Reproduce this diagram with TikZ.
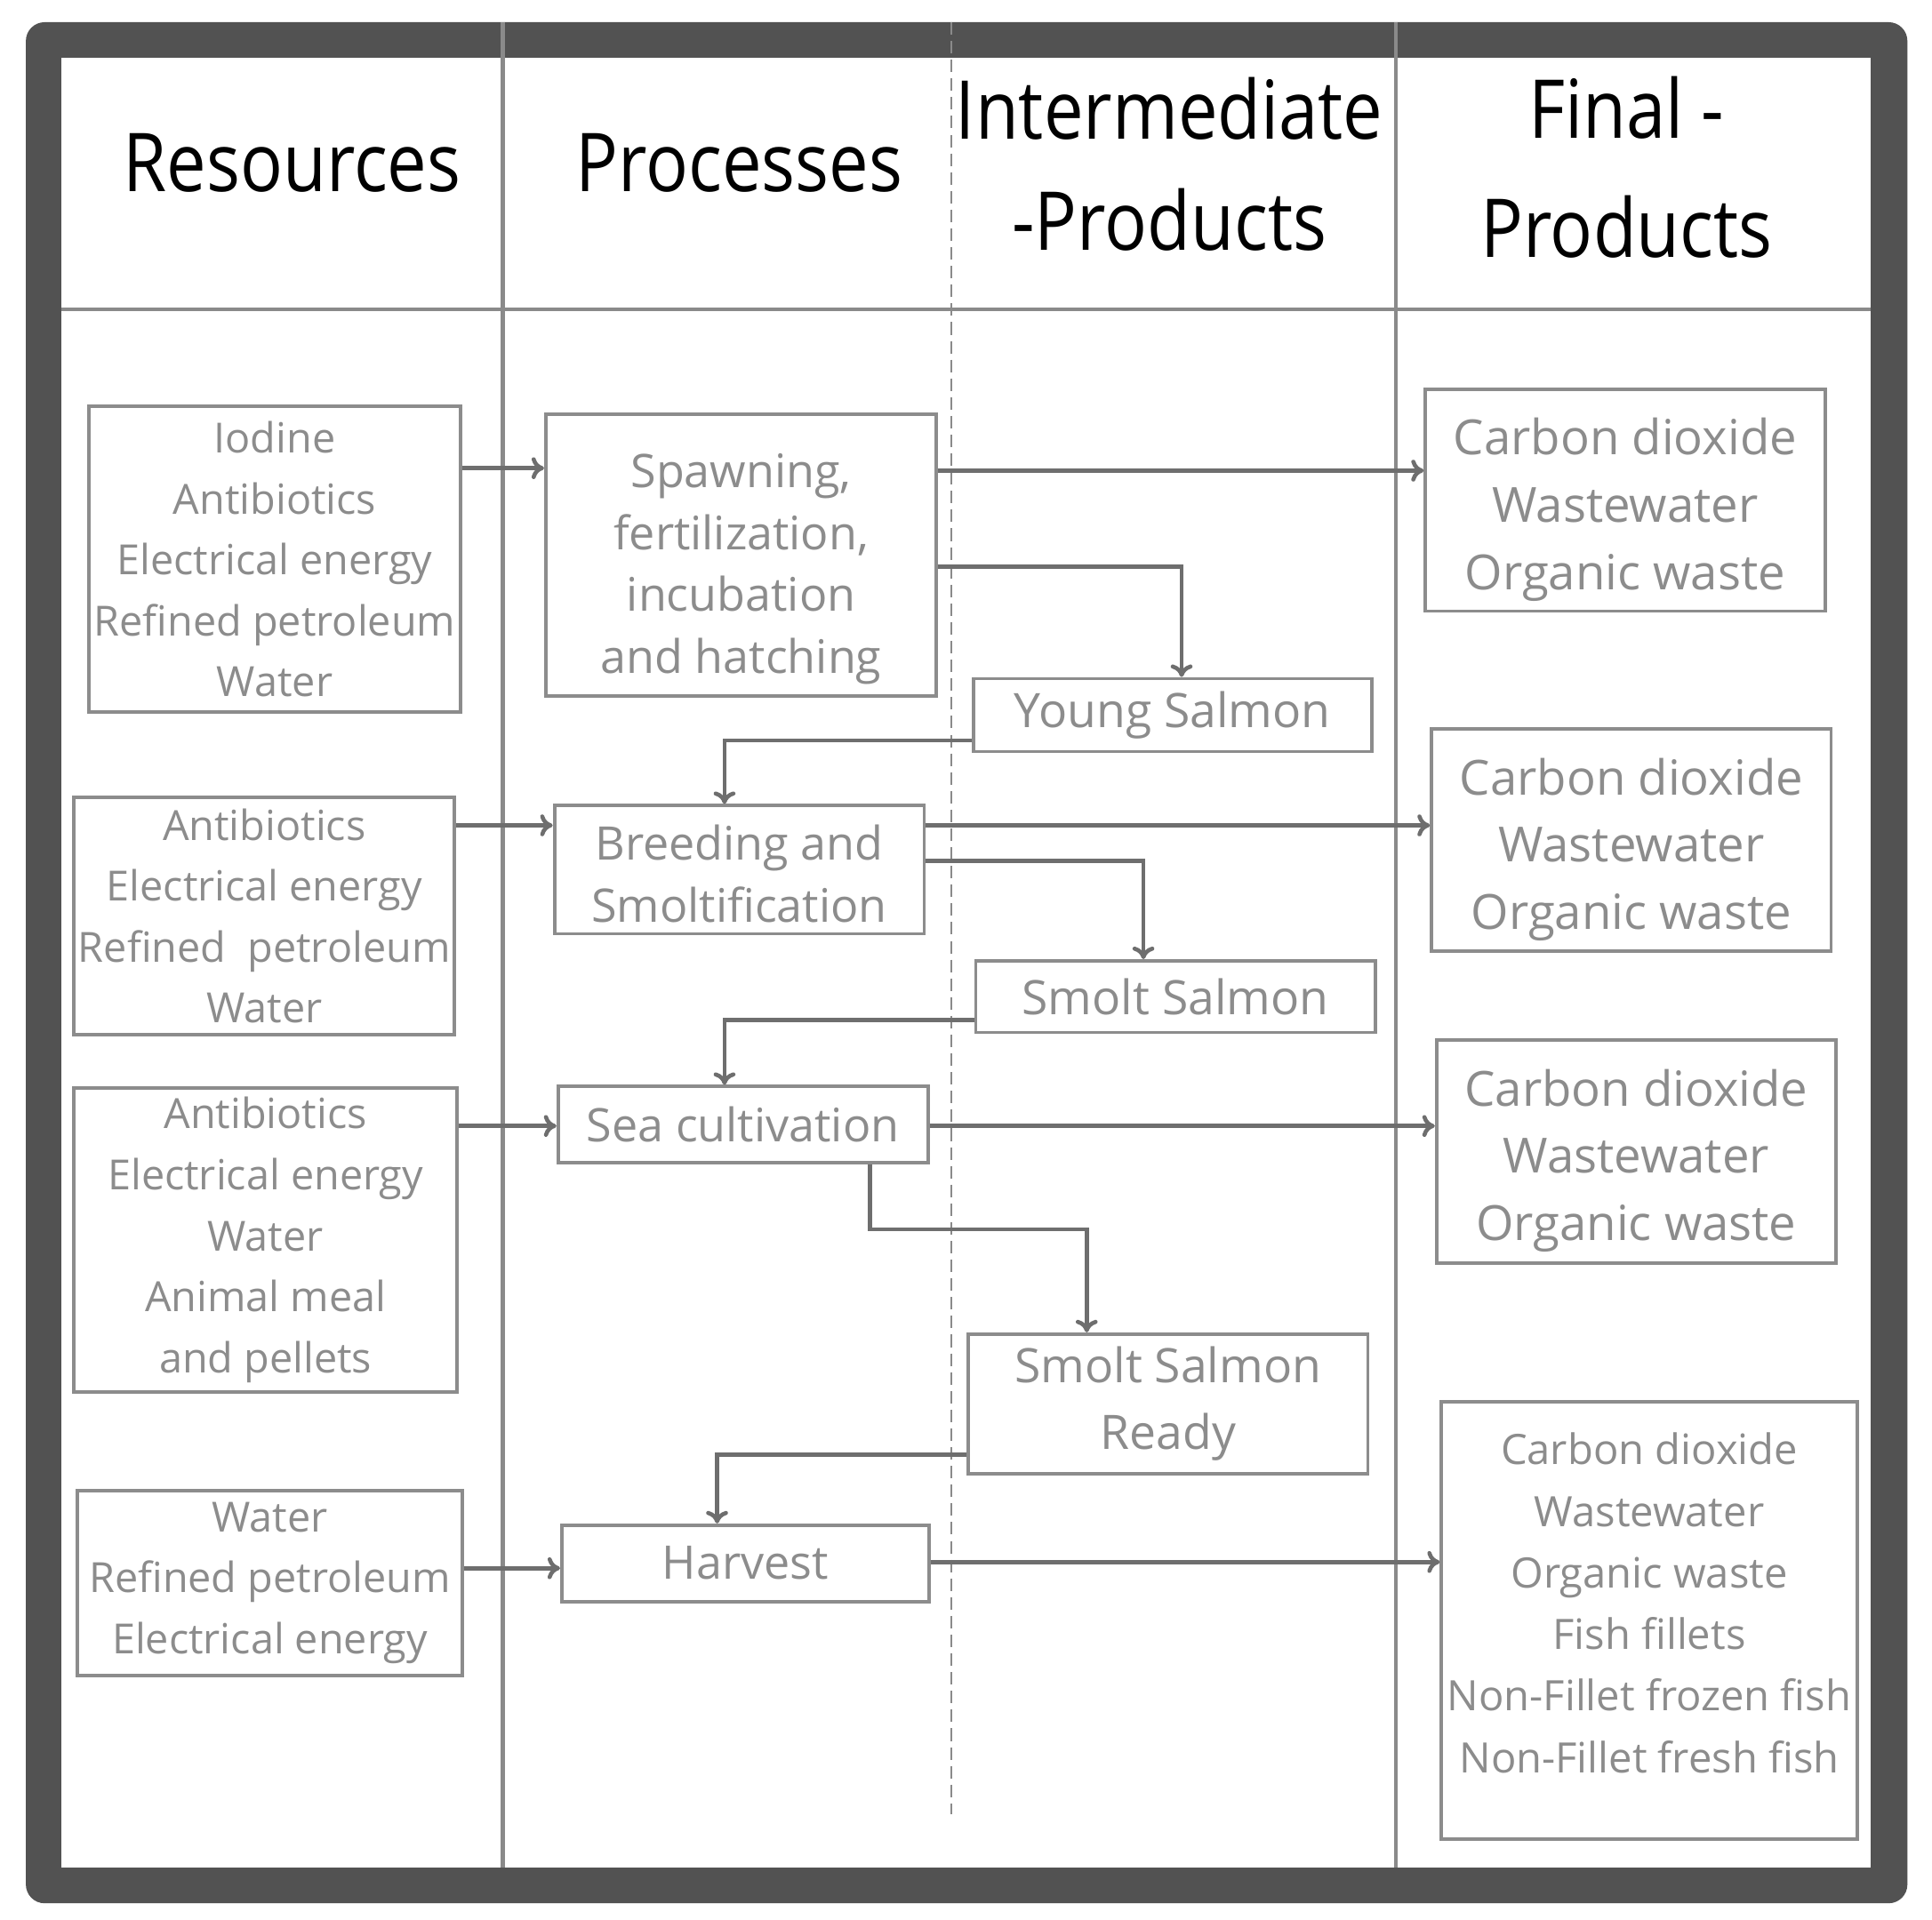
\documentclass[tikz,border=0pt]{standalone}
\usepackage{fontspec}
\setmainfont{Open Sans}
\newfontfamily\headfont[FakeStretch=0.87]{Open Sans}
\usetikzlibrary{arrows.meta}
\definecolor{framegray}{HTML}{525252}
\definecolor{linegray}{HTML}{8A8A8A}
\definecolor{boxgray}{HTML}{8C8C8C}
\definecolor{arrowgray}{HTML}{6E6E6E}

\begin{document}
\begin{tikzpicture}[x=0.013858cm,y=-0.013858cm,>={To[length=4pt,width=7pt]},inner sep=0pt,
  colline/.style={draw=linegray,line width=1.2pt},
  head/.style={font=\headfont\fontsize{26}{35.5}\selectfont,align=center},
  box/.style={draw=boxgray,line width=1.1pt,text=boxgray,align=center},
  resbox/.style={box,font=\fontsize{13.3}{19.5}\selectfont},
  procbox/.style={box,font=\fontsize{14.8}{19.8}\selectfont},
  interbox/.style={box,font=\fontsize{15.2}{21.3}\selectfont},
  finbox/.style={box,font=\fontsize{15.5}{21.5}\selectfont,minimum width=127.8pt,minimum height=71pt},
  flow/.style={->,draw=arrowgray,line width=1.3pt}]
  \path[fill=white,use as bounding box] (0,0) rectangle (1568,1558);
  \fill[framegray,rounded corners=6pt] (21,18) rectangle (1548,1545);
  \fill[white] (50,47) rectangle (1518,1516);
  \foreach \x in {408,1133}
    \draw[colline] (\x,18) -- (\x,1516);
  \draw[colline,line width=0.6pt,dash pattern=on 4pt off 2pt] (772,18) -- (772,1473);
  \draw[colline] (50,251) -- (1518,251);

  \node[head] (hres) at (237,132) {Resources};
  \node[head] (hproc) at (600,132) {Processes};
  \node[head] (hint) at (949,133) {Intermediate\\-Products};
  \node[head] (hfin) at (1320,136) {Final -\\[2.5pt]Products};

  \node[resbox,minimum width=119.1pt,minimum height=97.8pt] (r1) at (223,454)
    {Iodine\\Antibiotics\\Electrical energy\\Refined petroleum\\Water};
  \node[resbox,minimum width=121.8pt,minimum height=76.1pt] (r2) at (214.5,743.5)
    {Antibiotics\\Electrical energy\\Refined\ \ petroleum\\Water};
  \node[resbox,minimum width=122.6pt,minimum height=97.4pt] (r3) at (215.5,1006.5)
    {Antibiotics\\Electrical energy\\Water\\Animal meal\\and pellets};
  \node[resbox,minimum width=123pt,minimum height=59.1pt] (r4) at (219,1285)
    {Water\\Refined petroleum\\Electrical energy};

  \node[procbox,minimum width=125pt,minimum height=90.3pt] (p1) at (601.5,450.5)
    {\mbox{}\\Spawning,\\fertilization,\\incubation\\and hatching};
  \node[procbox,minimum width=118.3pt,minimum height=41pt] (p2) at (600,706)
    {\mbox{}\\[-5.9pt]Breeding and\\Smoltification};
  \node[procbox,minimum width=118.3pt,minimum height=24.4pt] (p3) at (603,913) {Sea cultivation};
  \node[procbox,minimum width=117.5pt,minimum height=24.4pt] (p4) at (605,1269) {Harvest};

  \node[interbox,minimum width=127.4pt,minimum height=23.3pt] (i1) at (951.5,580.5) {Young Salmon};
  \node[interbox,minimum width=127.8pt,minimum height=22.9pt] (i2) at (954,809) {Smolt Salmon};
  \node[interbox,minimum width=127.8pt,minimum height=44.6pt] (i3) at (948,1139.5) {Smolt Salmon\\Ready};

  \node[finbox] (f1) at (1319,406) {\mbox{}\\[-3.7pt]Carbon dioxide\\Wastewater\\Organic waste};
  \node[finbox] (f2) at (1324,682) {\mbox{}\\[-3.7pt]Carbon dioxide\\Wastewater\\Organic waste};
  \node[finbox,minimum height=71.4pt] (f3) at (1328,934.5) {\mbox{}\\[-3.7pt]Carbon dioxide\\Wastewater\\Organic waste};
  \node[finbox,font=\fontsize{13.4}{19.7}\selectfont,minimum width=132.9pt,minimum height=140pt] (f4) at (1338.5,1315.5)
    {Carbon dioxide\\Wastewater\\Organic waste\\Fish fillets\\Non-Fillet frozen fish\\Non-Fillet fresh fish\\[-8.3pt]\mbox{}};

  \draw[flow] (r1.east |- 0,380) -- (p1.west |- 0,380);
  \draw[flow] (p1.east |- 0,382) -- (f1.west |- 0,382);
  \draw[flow] (p1.east |- 0,460) -| (959,0 |- i1.north);
  \draw[flow] (i1.west |- 0,601) -| (588,0 |- p2.north);
  \draw[flow] (r2.east |- 0,670) -- (p2.west |- 0,670);
  \draw[flow] (p2.east |- 0,670) -- (f2.west |- 0,670);
  \draw[flow] (p2.east |- 0,699) -| (928,0 |- i2.north);
  \draw[flow] (i2.west |- 0,828) -| (588,0 |- p3.north);
  \draw[flow] (r3.east |- 0,914) -- (p3.west |- 0,914);
  \draw[flow] (p3.east |- 0,914) -- (f3.west |- 0,914);
  \draw[flow] (706,0 |- p3.south) |- (882,998) -- (882,0 |- i3.north);
  \draw[flow] (i3.west |- 0,1181) -| (582,0 |- p4.north);
  \draw[flow] (r4.east |- 0,1273) -- (p4.west |- 0,1273);
  \draw[flow] (p4.east |- 0,1268) -- (f4.west |- 0,1268);
\end{tikzpicture}
\end{document}
